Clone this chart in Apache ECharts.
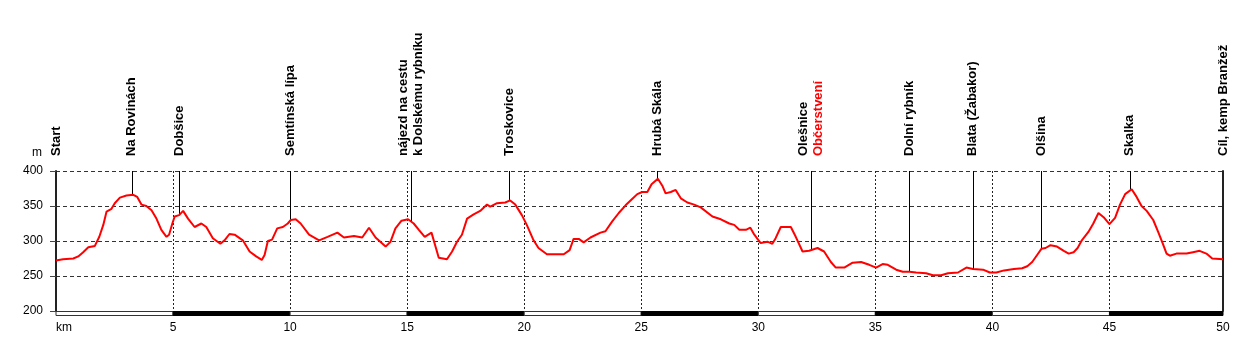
<!DOCTYPE html>
<html>
<head>
<meta charset="utf-8">
<script src="https://cdn.jsdelivr.net/npm/echarts@6/dist/echarts.min.js"></script>
<style>
html,body{margin:0;padding:0;background:#fff;}
#chart{width:1260px;height:355px;}
</style>
</head>
<body>
<div id="chart"></div>
<script>
// ---- data ----
const profileKm = [0,0.3,0.74,0.95,1.16,1.38,1.66,1.85,2.02,2.16,2.37,2.51,2.73,3.01,3.3,3.47,3.65,3.86,4.08,4.29,4.5,4.72,4.83,4.97,5.07,5.26,5.43,5.64,5.92,6.21,6.42,6.7,7.02,7.2,7.41,7.63,7.98,8.27,8.55,8.79,8.91,9.05,9.23,9.45,9.69,9.9,10.03,10.24,10.45,10.81,11.24,11.6,12.02,12.3,12.73,13.08,13.37,13.65,14.08,14.29,14.5,14.76,15.04,15.28,15.5,15.75,16.04,16.35,16.7,16.92,17.13,17.34,17.56,17.84,18.12,18.41,18.55,18.84,19.19,19.4,19.62,19.9,20.11,20.4,20.61,20.97,21.69,21.94,22.11,22.33,22.54,22.83,23.26,23.47,23.76,24.04,24.33,24.61,24.83,25.04,25.26,25.44,25.71,25.9,26.04,26.26,26.47,26.69,26.97,27.26,27.54,28.04,28.4,28.76,28.97,29.19,29.47,29.66,29.83,30.1,30.39,30.6,30.74,30.96,31.39,31.6,31.89,32.17,32.53,32.81,33.1,33.31,33.67,34.03,34.39,34.74,35.03,35.31,35.53,35.89,36.17,36.46,36.74,37.17,37.46,37.81,38.1,38.53,38.89,39.17,39.6,39.89,40.17,40.5,40.92,41.27,41.49,41.7,41.91,42.1,42.27,42.48,42.76,43.05,43.26,43.47,43.64,43.82,44.1,44.31,44.53,44.75,45.0,45.24,45.45,45.67,45.95,46.16,46.37,46.59,46.87,47.08,47.27,47.44,47.58,47.86,48.29,48.57,48.85,49.14,49.39,49.85];
const profileElev = [272,274,275,278,284,291,293,306,323,342,346,354,362,365,366,363,352,350,344,332,316,306,309,325,335,337,343,332,320,325,320,304,296,301,310,309,301,285,278,273,280,300,302,318,320,325,330,331,325,309,301,306,312,305,307,305,319,305,292,299,318,329,331,325,316,306,312,276,274,285,299,309,332,338,343,352,349,354,355,358,352,337,323,301,290,281,281,287,303,303,298,305,312,314,328,340,351,360,367,370,370,381,389,379,368,370,373,361,355,352,348,335,331,325,323,316,316,319,309,297,299,296,304,320,320,306,285,286,290,285,270,262,262,269,270,266,262,267,266,259,256,256,255,254,251,251,254,255,262,260,259,255,255,258,260,261,264,270,280,289,290,294,292,286,282,284,290,301,313,325,340,334,324,333,352,367,374,363,350,343,330,313,297,282,279,282,282,284,286,282,275,274];

const markerNames = ['Start','Na Rovinách','Dobšice','Semtínská lípa','nájezd na cestu\nk Dolskému rybníku','Troskovice','Hrubá Skála','Olešnice','Dolní rybník','Blata (Žabakor)','Olšina','Skalka','Cíl, kemp Branžež'];
const markerNotes = ['','','','','','','','Občerstvení','','','','',''];
const markerKm = [0,3.24,5.27,10.0,15.17,19.37,25.67,32.25,36.45,39.16,42.09,45.87,49.85];

const xTicks = [0,5,10,15,20,25,30,35,40,45,49.85];
const xTickLabels = ['km','5','10','15','20','25','30','35','40','45','50'];
const yTicks = [200,250,300,350,400];

// ---- helpers ----
function elevAt(km){
  for (let i=1;i<profileKm.length;i++){
    if (km <= profileKm[i]){
      const a=profileKm[i-1], b=profileKm[i];
      const t=(km-a)/(b-a);
      return profileElev[i-1]+t*(profileElev[i]-profileElev[i-1]);
    }
  }
  return profileElev[profileElev.length-1];
}
const lineData = profileKm.map((k,i)=>[k,profileElev[i]]);
const markerData = markerKm.map((k,i)=>[k, elevAt(k), i]);
const bandData = [];
for (let i=0;i<xTicks.length-1;i++) bandData.push([xTicks[i], xTicks[i+1], i%2]);

const yMin = yTicks[0], yMax = yTicks[yTicks.length-1];
const FONT = '"Liberation Sans", Arial, sans-serif';

const chart = echarts.init(document.getElementById('chart'), null, {renderer:'canvas'});
chart.setOption({
  animation:false,
  backgroundColor:'#fff',
  grid:{left:56,right:37,top:171,bottom:44,containLabel:false},
  xAxis:{
    type:'value', min:0, max:xTicks[xTicks.length-1], interval:5,
    axisLine:{show:false},
    axisTick:{show:false},
    axisLabel:{
      customValues:xTicks,
      formatter:function(v){const i=xTicks.indexOf(v);return i>=0?xTickLabels[i]:'';},
      color:'#000', fontSize:12, fontFamily:FONT, margin:11,
      alignMinLabel:'left', showMinLabel:true, showMaxLabel:true
    },
    splitLine:{show:true,lineStyle:{color:'#222',width:1,type:[2,2]}}
  },
  yAxis:[{
    type:'value', min:yMin, max:yMax, interval:50,
    name:'m', nameLocation:'end', nameGap:12,
    nameTextStyle:{color:'#000',fontSize:12,fontFamily:FONT,align:'right',padding:[0,14,0,0]},
    axisLine:{show:true,lineStyle:{color:'#222',width:2}},
    axisTick:{show:true,length:6,lineStyle:{color:'#444'}},
    axisLabel:{color:'#000',fontSize:12,fontFamily:FONT,margin:13},
    splitLine:{show:true,lineStyle:{color:'#333',width:1,type:[4,3]}}
  },{
    type:'value', min:yMin, max:yMax, interval:50, position:'right',
    axisLine:{show:true,lineStyle:{color:'#222',width:2}},
    axisTick:{show:false}, axisLabel:{show:false}, splitLine:{show:false}
  }],
  series:[
    {
      type:'line', data:lineData, showSymbol:false, symbol:'none',
      lineStyle:{color:'#ff0000',width:2}, z:5
    },
    {
      type:'custom', data:markerData, z:4, clip:false,
      encode:{x:0,y:1},
      renderItem:function(params, api){
        const km=api.value(0), el=api.value(1), idx=api.value(2);
        const p0=api.coord([km,yMax]);
        const p1=api.coord([km,el]);
        const note=markerNotes[idx];
        const txt = note ? '{n|'+markerNames[idx]+'}\n{r|'+note+'}' : markerNames[idx];
        const children=[];
        if (idx!==0 && idx!==markerKm.length-1){
          children.push({type:'line',shape:{x1:Math.round(p0[0])+0.5,y1:p0[1],x2:Math.round(p0[0])+0.5,y2:p1[1]},style:{stroke:'#000',lineWidth:1}});
        }
        children.push({
          type:'text', x:p0[0], y:p0[1]-15, rotation:Math.PI/2,
          style:{
            text:txt, fill:'#000', fontSize:13, fontWeight:'bold', fontFamily:FONT,
            align:'left', verticalAlign:'middle', lineHeight:15,
            rich:{
              n:{fill:'#000',fontSize:13,fontWeight:'bold',fontFamily:FONT,lineHeight:15},
              r:{fill:'#ff0000',fontSize:13,fontWeight:'bold',fontFamily:FONT,lineHeight:15}
            }
          }
        });
        return {type:'group',children:children};
      }
    },
    {
      type:'custom', data:bandData, z:6, clip:false,
      encode:{x:[0,1]},
      renderItem:function(params, api){
        const a=api.coord([api.value(0),yMin]);
        const b=api.coord([api.value(1),yMin]);
        const dark=api.value(2)===1;
        return {type:'rect',shape:{x:a[0],y:Math.round(a[1])+0.5,width:b[0]-a[0],height:4},
          style:{fill:dark?'#000':'#fff',stroke:dark?'#000':'#333',lineWidth:1}};
      }
    }
  ]
});
</script>
</body>
</html>
